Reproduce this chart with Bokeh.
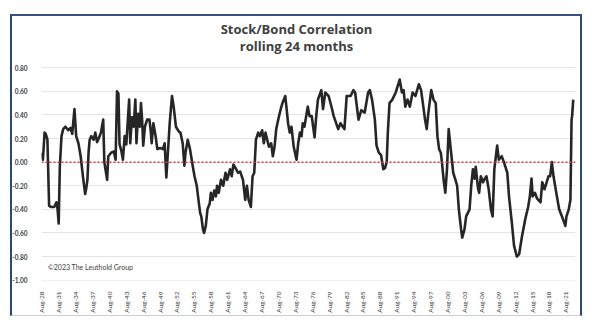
import math
from bokeh.plotting import figure
from bokeh.models import Range1d, FixedTicker, Span, Label, InlineStyleSheet
from bokeh.embed import file_html
from bokeh.resources import INLINE

# ---- data ----
years = [1928.6, 1928.8, 1929.1, 1929.3, 1929.6, 1929.9, 1930.3, 1930.8, 1931.2, 1931.4,
         1931.6, 1931.8, 1932.1, 1932.4, 1932.8, 1933.3, 1933.7, 1934.0, 1934.4, 1934.7,
         1935.1, 1935.5, 1935.9, 1936.3, 1936.5, 1936.7, 1936.9, 1937.1, 1937.4, 1937.8,
         1938.1, 1938.4, 1938.7, 1939.1, 1939.5, 1939.7, 1939.9, 1940.2, 1940.4, 1940.9,
         1941.4, 1941.7, 1941.95, 1942.2, 1942.4, 1942.7, 1943.0, 1943.3, 1943.6, 1944.1,
         1944.3, 1944.6, 1944.9, 1945.2, 1945.4, 1945.7, 1946.0, 1946.2, 1946.4, 1946.6,
         1946.9, 1947.3, 1947.7, 1947.9, 1948.1, 1948.4, 1948.8, 1949.1, 1949.6, 1950.1,
         1950.4, 1950.7, 1950.9, 1951.3, 1951.7, 1952.0, 1952.4, 1952.9, 1953.2, 1953.6,
         1953.9, 1954.1, 1954.5, 1954.9, 1955.3, 1955.7, 1956.1, 1956.4, 1956.7, 1956.9,
         1957.2, 1957.4, 1957.7, 1958.0, 1958.4, 1958.6, 1958.9, 1959.2, 1959.5, 1959.7,
         1960.0, 1960.4, 1960.8, 1961.2, 1961.5, 1962.0, 1962.3, 1962.6, 1963.1, 1963.4,
         1963.8, 1964.3, 1964.7, 1965.0, 1965.3, 1965.7, 1966.0, 1966.3, 1966.6, 1967.0,
         1967.3, 1967.7, 1968.0, 1968.3, 1968.6, 1968.9, 1969.3, 1969.6, 1969.9, 1970.2,
         1970.6, 1971.0, 1971.3, 1971.8, 1972.0, 1972.3, 1972.6, 1972.9, 1973.3, 1973.8,
         1974.1, 1974.4, 1974.7, 1974.9, 1975.2, 1975.8, 1976.1, 1976.5, 1977.0, 1977.3,
         1977.6, 1978.2, 1978.5, 1978.9, 1979.5, 1980.1, 1980.4, 1981.2, 1981.6, 1982.0,
         1982.3, 1982.7, 1983.4, 1983.9, 1984.2, 1984.8, 1985.3, 1985.9, 1986.5, 1986.8,
         1987.2, 1987.7, 1988.0, 1988.4, 1988.8, 1989.2, 1989.5, 1989.8, 1990.0, 1990.3,
         1990.8, 1991.4, 1992.1, 1992.5, 1992.8, 1993.1, 1993.5, 1993.9, 1994.4, 1994.9,
         1995.5, 1995.9, 1996.3, 1996.6, 1996.9, 1997.2, 1997.7, 1998.1, 1998.5, 1998.8,
         1999.1, 1999.4, 1999.6, 1999.9, 2000.2, 2000.5, 2000.8, 2001.1, 2001.6, 2002.0,
         2002.3, 2002.6, 2003.0, 2003.2, 2003.6, 2003.9, 2004.5, 2004.8, 2005.1, 2005.4,
         2005.6, 2006.0, 2006.2, 2006.5, 2006.9, 2007.2, 2007.5, 2007.9, 2008.3, 2008.6,
         2008.9, 2009.4, 2009.7, 2010.2, 2010.6, 2011.2, 2011.5, 2012.0, 2012.4, 2012.9,
         2013.3, 2013.8, 2014.4, 2014.9, 2015.2, 2015.5, 2015.7, 2016.1, 2016.5, 2017.1,
         2017.4, 2017.8, 2018.5, 2018.8, 2019.1, 2019.4, 2020.0, 2020.4, 2020.9, 2021.5,
         2021.7, 2022.1, 2022.4, 2022.6, 2022.7, 2022.9]

corr = [0.08, 0.02, 0.25, 0.24, 0.19, -0.37, -0.38, -0.38, -0.34, -0.40,
        -0.52, -0.04, 0.22, 0.28, 0.30, 0.27, 0.29, 0.24, 0.45, 0.22,
        0.16, 0.05, -0.12, -0.27, -0.22, -0.15, 0.08, 0.19, 0.22, 0.19,
        0.25, 0.17, 0.20, 0.25, 0.36, 0.00, -0.06, -0.15, 0.05, 0.08,
        0.09, 0.02, 0.60, 0.58, 0.15, 0.10, 0.02, 0.22, 0.15, 0.53,
        0.16, 0.38, 0.30, 0.53, 0.16, 0.41, 0.30, 0.50, 0.36, 0.14,
        0.30, 0.36, 0.36, 0.28, 0.16, 0.33, 0.22, 0.11, 0.12, 0.11,
        0.16, -0.13, 0.02, 0.33, 0.56, 0.47, 0.30, 0.26, 0.25, 0.16,
        -0.03, 0.08, 0.19, 0.11, -0.01, -0.12, -0.20, -0.32, -0.43, -0.46,
        -0.57, -0.60, -0.54, -0.40, -0.35, -0.26, -0.32, -0.24, -0.29, -0.20,
        -0.26, -0.15, -0.20, -0.09, -0.15, -0.06, -0.12, -0.02, -0.06, -0.09,
        -0.08, -0.15, -0.32, -0.20, -0.32, -0.38, -0.12, -0.09, 0.19, 0.25,
        0.22, 0.27, 0.16, 0.25, 0.19, 0.13, 0.16, 0.05, 0.13, 0.28,
        0.37, 0.45, 0.50, 0.56, 0.47, 0.33, 0.25, 0.30, 0.13, 0.02,
        0.16, 0.25, 0.22, 0.33, 0.30, 0.47, 0.39, 0.39, 0.21, 0.39,
        0.53, 0.61, 0.45, 0.59, 0.56, 0.45, 0.39, 0.28, 0.33, 0.30,
        0.28, 0.56, 0.56, 0.61, 0.59, 0.36, 0.44, 0.42, 0.59, 0.61,
        0.53, 0.36, 0.14, 0.08, 0.06, -0.06, -0.05, 0.00, 0.25, 0.50,
        0.53, 0.59, 0.70, 0.59, 0.61, 0.47, 0.53, 0.47, 0.59, 0.56,
        0.66, 0.61, 0.47, 0.36, 0.28, 0.42, 0.61, 0.53, 0.50, 0.22,
        0.11, 0.08, 0.00, -0.15, -0.26, -0.06, 0.28, 0.14, -0.09, -0.15,
        -0.20, -0.40, -0.57, -0.64, -0.57, -0.46, -0.40, -0.20, -0.06, -0.14,
        -0.04, -0.22, -0.26, -0.12, -0.17, -0.14, -0.12, -0.23, -0.40, -0.46,
        -0.06, 0.14, 0.02, 0.05, 0.00, -0.09, -0.29, -0.51, -0.71, -0.80,
        -0.78, -0.63, -0.48, -0.38, -0.29, -0.14, -0.29, -0.26, -0.31, -0.34,
        -0.17, -0.23, -0.12, -0.12, 0.00, -0.12, -0.29, -0.40, -0.46, -0.54,
        -0.46, -0.40, -0.32, 0.36, 0.39, 0.53]

tick_labels = ["Aug-28", "Aug-31", "Aug-34", "Aug-37", "Aug-40", "Aug-43", "Aug-46",
               "Aug-49", "Aug-52", "Aug-55", "Aug-58", "Aug-61", "Aug-64", "Aug-67",
               "Aug-70", "Aug-73", "Aug-76", "Aug-79", "Aug-82", "Aug-85", "Aug-88",
               "Aug-91", "Aug-94", "Aug-97", "Aug-00", "Aug-03", "Aug-06", "Aug-09",
               "Aug-12", "Aug-15", "Aug-18", "Aug-21"]
y_ticks = [0.8, 0.6, 0.4, 0.2, 0.0, -0.2, -0.4, -0.6, -0.8, -1.0]

title_1 = "Stock/Bond Correlation"
title_2 = "rolling 24 months"
credit = "\u00a92023 The Leuthold Group"


def label_year(lbl):
    yy = int(lbl.split("-")[1])
    return (1900 + yy if yy >= 28 else 2000 + yy) + 7 / 12.0


tick_pos = [label_year(t) for t in tick_labels]

TFONT = "Open Sans"
FONT = "Lato"
TXT = "#404040"

frame_css = InlineStyleSheet(css="""
:host { position: relative; }
:host::after {
  content: "";
  position: absolute;
  left: 10px; top: 14px; width: 572px; height: 302px;
  box-sizing: border-box;
  border-left: 2px solid #2c4677;
  border-right: 2px solid #2c4677;
  border-top: 2px solid #3a5283;
  border-bottom: 1px solid #c9ced8;
  pointer-events: none;
  z-index: 100;
}
""")

# frame spans from just under the outer border down to the -1.00 line;
# the title area sits above the 0.80 gridline inside the frame
p = figure(width=600, height=336, output_backend="svg", toolbar_location=None,
           x_range=Range1d(1928.55, 2023.3), y_range=Range1d(-1.003, 1.234),
           min_border_left=41, min_border_right=25, min_border_top=16,
           min_border_bottom=56, stylesheets=[frame_css])
p.background_fill_color = "white"
p.border_fill_color = "white"
p.outline_line_color = None

# grid
p.xgrid.grid_line_color = None
p.ygrid.grid_line_color = "#e4e4e4"
p.ygrid.grid_line_width = 1

# axes
p.yaxis.ticker = FixedTicker(ticks=y_ticks)
p.yaxis.major_label_overrides = {v: f"{v:.2f}" for v in y_ticks}
p.yaxis.axis_line_color = None
p.yaxis.major_tick_line_color = None
p.yaxis.minor_tick_line_color = None
p.yaxis.major_label_text_font = FONT
p.yaxis.major_label_text_font_style = "bold"
p.yaxis.major_label_text_font_size = "6.5px"
p.yaxis.major_label_text_color = TXT
p.yaxis.major_label_standoff = 8

p.xaxis.ticker = FixedTicker(ticks=tick_pos)
p.xaxis.major_label_overrides = {pos: lbl for pos, lbl in zip(tick_pos, tick_labels)}
p.xaxis.major_label_orientation = math.pi / 2
p.xaxis.axis_line_color = None
p.xaxis.major_tick_line_color = None
p.xaxis.minor_tick_line_color = None
p.xaxis.major_label_text_font = FONT
p.xaxis.major_label_text_font_size = "6.5px"
p.xaxis.major_label_text_color = TXT
p.xaxis.major_label_standoff = 5

# zero line
p.add_layout(Span(location=0, dimension="width", line_color="#e03a3a",
                  line_width=1.5, line_dash="2 2"))

# series
p.line(years, corr, line_color="#262626", line_width=2.6, line_join="round")

# titles
p.add_layout(Label(x=1973.8, y=1.124, text=title_1, text_align="center",
                   text_baseline="middle", text_font=TFONT, text_font_style="bold",
                   text_font_size="13px", text_color=TXT))
p.add_layout(Label(x=1973.8, y=0.98, text=title_2, text_align="center",
                   text_baseline="middle", text_font=TFONT, text_font_style="bold",
                   text_font_size="13px", text_color=TXT))

# credit
p.add_layout(Label(x=1929.7, y=-0.89, text=credit, text_align="left",
                   text_baseline="middle", text_font=FONT,
                   text_font_size="7px", text_color=TXT))

open("out.html", "w").write(file_html(p, INLINE))
